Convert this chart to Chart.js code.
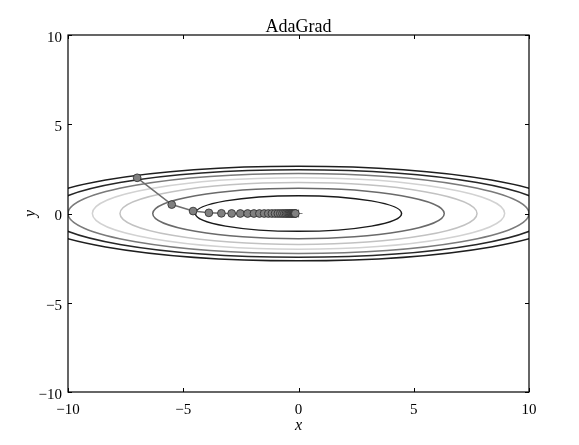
<!DOCTYPE html>
<html>
<head>
<meta charset="utf-8">
<script src="https://cdn.jsdelivr.net/npm/chart.js@4/dist/chart.umd.min.js"></script>
<style>
  html, body { margin: 0; padding: 0; background: #fff; }
  #wrap { width: 579px; height: 445px; }
</style>
</head>
<body>
<div id="wrap"><canvas id="ctx" width="579" height="445"></canvas></div>
<script>
// AdaGrad path on f(x, y) = x^2/20 + y^2
const xHistory = [-7.0, -5.5, -4.573, -3.888, -3.345, -2.899, -2.524, -2.206, -1.932, -1.695,
                  -1.489, -1.310, -1.153, -1.015, -0.895, -0.788, -0.695, -0.613, -0.540, -0.477,
                  -0.420, -0.371, -0.327, -0.289, -0.255, -0.225, -0.198, -0.175, -0.154, -0.136];
const yHistory = [2.0, 0.5, 0.136, 0.037, 0.010, 0.003, 0.001, 0.0, 0.0, 0.0,
                  0.0, 0.0, 0.0, 0.0, 0.0, 0.0, 0.0, 0.0, 0.0, 0.0,
                  0.0, 0.0, 0.0, 0.0, 0.0, 0.0, 0.0, 0.0, 0.0, 0.0];

// contour levels of f and their (grey) line colours; 7 is the masked edge
const contourLevels = [7, 6, 5, 4, 3, 2, 1];
const contourColors = ['#1e1e1e', '#262626', '#7a7a7a', '#d2d2d2', '#c2c2c2', '#6a6a6a', '#1a1a1a'];

const tickValues = [-10, -5, 0, 5, 10];
const chartTitle = 'AdaGrad';

const SERIF = "'Liberation Serif', 'DejaVu Serif', serif";

function minusLabel(value) {
    return value < 0 ? '\u2212' + Math.abs(value) : '' + value;
}

// ellipses x^2/20 + y^2 = level, placed with the chart's own scales
const contourPlugin = {
    id: 'contours',
    beforeDatasetsDraw(chart) {
        const {ctx, chartArea, scales: {x, y}} = chart;
        const cx = x.getPixelForValue(0);
        const cy = y.getPixelForValue(0);
        ctx.save();
        ctx.beginPath();
        ctx.rect(chartArea.left, chartArea.top, chartArea.right - chartArea.left, chartArea.bottom - chartArea.top);
        ctx.clip();
        contourLevels.forEach((level, i) => {
            const rx = Math.abs(x.getPixelForValue(Math.sqrt(20 * level)) - cx);
            const ry = Math.abs(y.getPixelForValue(Math.sqrt(level)) - cy);
            ctx.beginPath();
            ctx.ellipse(cx, cy, rx, ry, 0, 0, Math.PI * 2);
            ctx.strokeStyle = contourColors[i];
            ctx.lineWidth = 1.5;
            ctx.stroke();
        });
        ctx.restore();
    }
};

// matplotlib style frame with inward ticks on all four sides, title over the axes
const framePlugin = {
    id: 'frame',
    afterDraw(chart) {
        const {ctx, chartArea: a, scales: {x, y}} = chart;
        ctx.save();
        ctx.strokeStyle = '#000';
        ctx.lineWidth = 1.2;
        ctx.strokeRect(a.left, a.top, a.right - a.left, a.bottom - a.top);
        ctx.lineWidth = 1;
        ctx.beginPath();
        tickValues.forEach(v => {
            const px = Math.round(x.getPixelForValue(v)) + 0.5;
            ctx.moveTo(px, a.bottom); ctx.lineTo(px, a.bottom - 4);
            ctx.moveTo(px, a.top); ctx.lineTo(px, a.top + 4);
            const py = Math.round(y.getPixelForValue(v)) + 0.5;
            ctx.moveTo(a.left, py); ctx.lineTo(a.left + 4, py);
            ctx.moveTo(a.right, py); ctx.lineTo(a.right - 4, py);
        });
        ctx.stroke();

        ctx.fillStyle = '#000';
        ctx.font = '18px ' + SERIF;
        ctx.textAlign = 'center';
        ctx.textBaseline = 'alphabetic';
        ctx.fillText(chartTitle, (a.left + a.right) / 2, a.top - 3);
        ctx.restore();
    }
};

const chart = new Chart(document.getElementById('ctx'), {
    type: 'scatter',
    data: {
        datasets: [{
            label: 'AdaGrad',
            data: xHistory.map((v, i) => ({x: v, y: yHistory[i]})),
            showLine: true,
            borderColor: '#6e6e6e',
            borderWidth: 1.5,
            pointRadius: 3.9,
            pointBackgroundColor: '#808080',
            pointBorderColor: '#2a2a2a',
            pointBorderWidth: 0.8
        }, {
            label: 'min',
            data: [{x: 0, y: 0}],
            pointStyle: 'cross',
            pointRadius: 4,
            pointBorderColor: '#808080',
            pointBorderWidth: 1.2
        }]
    },
    options: {
        responsive: false,
        animation: false,
        layout: { padding: { left: 0, right: 50, top: 35, bottom: 0 } },
        plugins: {
            legend: { display: false },
            tooltip: { enabled: false },
            title: { display: false }
        },
        scales: {
            x: {
                type: 'linear',
                min: -10,
                max: 10,
                grid: { display: false, drawTicks: false },
                border: { display: false },
                ticks: {
                    stepSize: 5,
                    color: '#000',
                    padding: 9,
                    maxRotation: 0,
                    font: { family: SERIF, size: 15 },
                    callback: minusLabel
                },
                title: {
                    display: true,
                    text: 'x',
                    color: '#000',
                    font: { family: SERIF, size: 16, style: 'italic' },
                    padding: { top: 0, bottom: 10 }
                },
                afterFit: scale => { scale.height = 53; }
            },
            y: {
                type: 'linear',
                min: -10,
                max: 10,
                grid: { display: false, drawTicks: false },
                border: { display: false },
                ticks: {
                    stepSize: 5,
                    color: '#000',
                    padding: 6,
                    labelOffset: 3,
                    font: { family: SERIF, size: 15 },
                    callback: minusLabel
                },
                title: {
                    display: true,
                    text: 'y',
                    color: '#000',
                    font: { family: SERIF, size: 16, style: 'italic' },
                    padding: { top: 21, bottom: 0 }
                },
                afterFit: scale => { scale.width = 68; }
            }
        }
    },
    plugins: [contourPlugin, framePlugin]
});
</script>
</body>
</html>
